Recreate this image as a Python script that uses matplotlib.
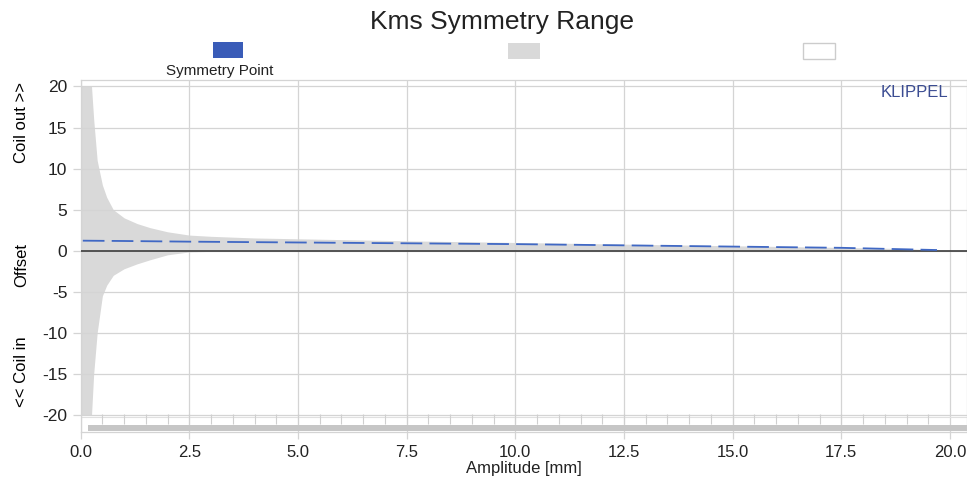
import matplotlib.pyplot as plt
import matplotlib.patches as mpatches
import numpy as np

plt.rcParams['font.family'] = ['Liberation Sans', 'DejaVu Sans']

# symmetry range (grey band) and symmetry point vs. amplitude
amplitude = [0.0, 0.25, 0.3, 0.38, 0.5, 0.6, 0.75, 1.0, 1.3, 1.6, 2.0, 2.5,
             3.0, 4.0, 5.0, 6.0, 7.5, 10.0, 12.5, 15.0, 17.5, 19.0, 19.75]
range_upper = [20.0, 20.0, 16.0, 11.0, 8.0, 6.5, 5.0, 4.0, 3.3, 2.8, 2.3, 1.9,
               1.75, 1.55, 1.45, 1.35, 1.2, 1.0, 0.8, 0.6, 0.4, 0.25, 0.05]
range_lower = [-20.0, -20.0, -15.0, -10.0, -5.5, -4.2, -3.0, -2.2, -1.6, -1.1, -0.5, -0.15,
               -0.08, -0.05, -0.05, -0.05, -0.05, -0.05, -0.05, -0.05, -0.05, -0.05, -0.05]

sym_amp = [0.05, 1.0, 2.5, 5.0, 7.5, 10.0, 12.5, 15.0, 17.5, 19.7]
sym_point = [1.22, 1.18, 1.1, 1.0, 0.9, 0.8, 0.65, 0.5, 0.35, 0.08]

x_ticks = [0.0, 2.5, 5.0, 7.5, 10.0, 12.5, 15.0, 17.5, 20.0]
y_ticks = [-20, -15, -10, -5, 0, 5, 10, 15, 20]

grid_c = '#d4d4d4'
band_c = '#d9d9d9'
blue = '#3a5cb8'

fig = plt.figure(figsize=(9.67, 4.82), dpi=100)
ax = fig.add_axes([0.0834, 0.104, 0.9166, 0.73])

ax.fill_between(amplitude, range_lower, range_upper, color=band_c, lw=0, zorder=1)
ax.axhline(0, color='#3c3c3c', lw=1.2, zorder=3)
ax.plot(sym_amp, sym_point, color='#4068c4', lw=1.3, dashes=(12, 4), zorder=4)

ax.set_xlim(0.0, 20.39)
ax.set_ylim(-22.07, 20.79)
ax.set_xticks(x_ticks)
ax.set_xticklabels([f'{v:.1f}' for v in x_ticks])
ax.set_yticks(y_ticks)
ax.set_yticklabels([str(v) for v in y_ticks])  # plain hyphen for negatives
ax.grid(True, color=grid_c, lw=0.9, zorder=0)
ax.tick_params(axis='both', colors=grid_c, labelcolor='#222222', labelsize=12.5,
               length=6, width=0.9)
ax.tick_params(axis='x', length=5, pad=4.5, labelsize=12)
for s in ax.spines.values():
    s.set_color(grid_c)
    s.set_linewidth(0.9)

# scale strip along the bottom
ax.axhline(-20.3, color='#e0e0e0', lw=0.8, zorder=2)
ax.vlines(np.arange(0.5, 20.0, 0.5), -21.1, -19.9, color='#cfcfcf', lw=0.8, zorder=2)
ax.axhspan(-21.95, -21.2, xmin=0.008, xmax=1.0, color='#c6c6c6', lw=0, zorder=2)

ax.set_xlabel('Amplitude [mm]', fontsize=12, labelpad=1, color='#222222')

ax.text(0.941, 0.985, 'KLIPPEL', transform=ax.transAxes, ha='center', va='top',
        fontsize=12, color='#3b4c92')

fig.text(0.519, 0.955, 'Kms Symmetry Range', ha='center', va='center', fontsize=19,
         color='#222222')

# y axis side labels
fig.text(0.022, 0.745, 'Coil out >>', rotation=90, ha='center', va='center', fontsize=12)
fig.text(0.022, 0.45, 'Offset', rotation=90, ha='center', va='center', fontsize=12)
fig.text(0.022, 0.228, '<< Coil in', rotation=90, ha='center', va='center', fontsize=12)

# legend swatches
fig.add_artist(mpatches.Rectangle((213 / 967, 1 - 58 / 482), 30 / 967, 16 / 482,
                                  transform=fig.transFigure, color=blue, lw=0))
fig.add_artist(mpatches.Rectangle((508 / 967, 1 - 59 / 482), 32 / 967, 16 / 482,
                                  transform=fig.transFigure, color=band_c, lw=0))
fig.add_artist(mpatches.Rectangle((803 / 967, 1 - 59 / 482), 32 / 967, 16 / 482,
                                  transform=fig.transFigure, facecolor='white',
                                  edgecolor='#cccccc', lw=1))
fig.text(220 / 967, 1 - 71 / 482, 'Symmetry Point', ha='center', va='center',
         fontsize=11, color='#222222')

fig.savefig('out.png', dpi=100)
